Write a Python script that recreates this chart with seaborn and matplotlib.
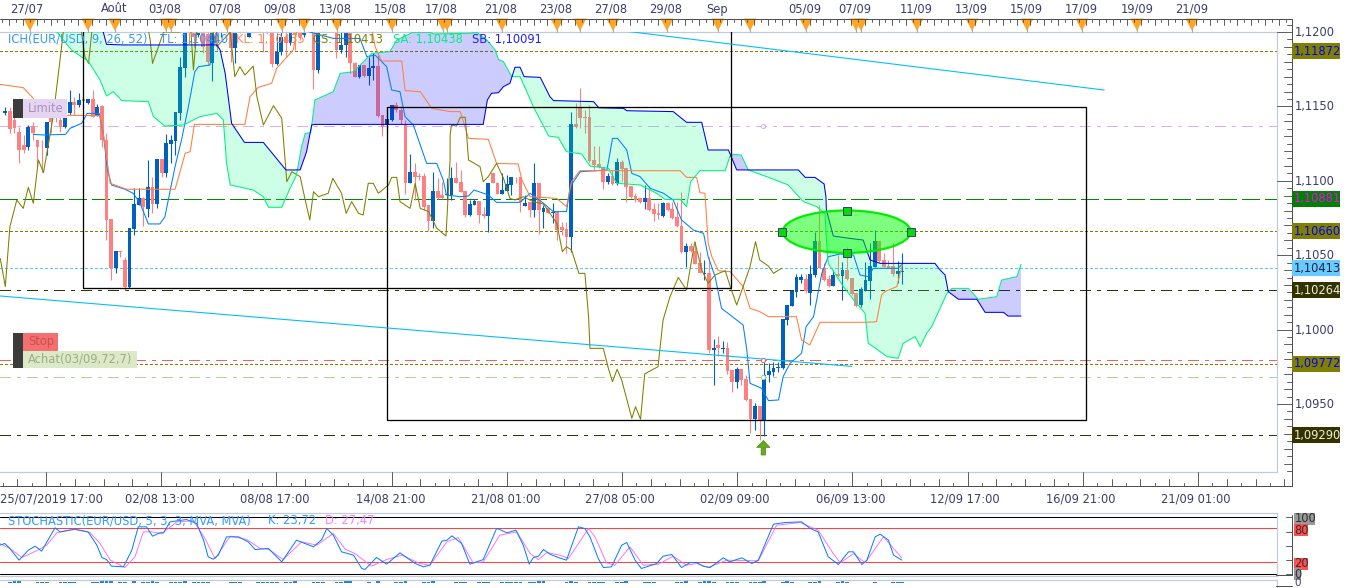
import numpy as np
import matplotlib
matplotlib.use('Agg')
import matplotlib.pyplot as plt
from matplotlib.patches import Ellipse, Rectangle
import seaborn as sns

# EUR/USD candles, in points (1e-5)
opens = [111458,111471,111409,111328,111241,111229,111368,111274,111229,111220,111431,111427,111409,111364,111453,111532,111509,111547,111525,111547,
         111435,111503,111274,110743,110412,110528,110468,110289,110678,110840,110882,110808,110961,110844,111144,111050,111247,111270,111458,111760,
         112081,112036,111982,112081,111987,111789,112081,111991,112081,112081,111895,112125,112036,111969,112125,112125,112081,112013,112081,111783,
         111868,111969,111924,112013,112058,111980,112081,112081,111745,112125,112081,112148,112081,111879,111913,112081,111789,111700,111778,111704,
         111756,111771,111442,111375,111409,111509,111476,111382,110987,111057,111032,111032,110837,110732,110931,110905,110905,110905,111021,110994,
         110931,110770,110837,110864,110777,110766,111050,110987,110911,110934,110972,111028,111028,110833,110860,110804,110985,110793,110815,110786,
         110790,110692,110676,110625,111379,111498,111427,111427,111140,111113,111091,110994,111035,110983,111126,111084,110965,110898,110882,110860,
         110884,110808,110781,110763,110849,110811,110755,110698,110524,110562,110531,110445,110374,110378,109865,109897,109870,109874,109729,109648,
         109733,109666,109531,109397,109487,109393,109695,109713,109740,109740,110065,110159,110255,110333,110340,110248,110367,110595,110412,110338,
         110293,110374,110363,110401,110345,110244,110165,110266,110329,110423,110595,110468,110427,110427,110374,110387]
highs = [111498,111498,111442,111364,111308,111375,111397,111274,111274,111397,111453,111453,111453,111465,111610,111565,111588,111565,111547,111610,
         111516,111509,111319,110743,110528,110528,110490,110685,110949,110949,110893,111140,111028,111144,111144,111312,111308,111460,111834,112081,
         112170,112081,112103,112125,112000,112081,112125,112125,112125,112125,112125,112170,112170,112125,112170,112170,112125,112125,112125,111991,
         112000,112000,112081,112058,112081,112081,112125,112125,112125,112170,112170,112170,112125,112000,112125,112125,111801,111778,111778,111834,
         111857,111845,111442,111494,111509,111527,111487,111409,111180,111117,111050,111050,110837,111057,111017,110994,111017,111091,111129,111073,
         110931,110871,110875,110864,110826,110987,111050,110994,111050,111039,111028,111028,111028,110905,110860,111117,110985,110837,110815,110849,
         110790,110725,110725,111465,111521,111621,111476,111509,111234,111234,111091,111050,111073,111151,111140,111084,110965,110920,110882,110972,
         110965,110849,110849,110860,110860,110855,110855,110923,110584,110584,110591,110524,110468,110490,109935,109957,109924,109919,109729,109747,
         109733,109695,109531,109505,109487,109796,109778,109785,109785,110069,110163,110259,110374,110374,110374,110434,110658,110837,110445,110367,
         110401,110501,110457,110557,110345,110244,110284,110457,110580,110669,110595,110513,110468,110580,110461,110513]
lows = [111442,111319,111319,111122,111189,111207,111274,111095,111061,111173,111319,111397,111330,111353,111442,111442,111498,111521,111516,111431,
        111435,111229,110602,110333,110378,110490,110266,110277,110636,110840,110699,110759,110781,110815,111028,111028,111117,111173,111409,111695,
        111924,111901,111969,111857,111776,111671,111879,111969,111991,111801,111789,111991,112013,111964,112013,112036,111868,111991,111767,111778,
        111845,111834,111913,111879,111946,111969,112002,111615,111722,112036,112058,112036,111823,111857,111834,111722,111695,111689,111700,111644,
        111677,111431,111301,111319,111404,111465,111382,110911,110983,110871,111005,110804,110663,110685,110878,110876,110871,110871,110983,110927,
        110759,110766,110837,110714,110748,110658,110983,110911,110911,110934,110905,110983,110793,110833,110759,110759,110643,110681,110781,110714,
        110602,110636,110517,110524,111353,111353,111319,111129,111068,111084,110943,110979,110972,110972,111001,110860,110882,110860,110849,110808,
        110799,110732,110741,110759,110799,110743,110692,110517,110423,110524,110441,110378,110333,109845,109628,109823,109841,109702,109583,109606,
        109628,109523,109307,109325,109258,109285,109650,109688,109717,109733,110031,110159,110221,110311,110244,110165,110356,110412,110329,110289,
        110293,110356,110199,110333,110232,110150,110154,110262,110206,110419,110457,110419,110412,110360,110315,110307]
closes = [111471,111350,111353,111207,111207,111364,111323,111225,111225,111395,111397,111422,111364,111431,111532,111509,111543,111539,111547,111431,
          111498,111274,110737,110412,110528,110522,110289,110685,110844,110882,110826,110956,110844,111144,111050,111252,111274,111460,111767,111991,
          111991,111969,112058,111901,111801,111991,111924,112081,112013,111890,112081,112013,112125,112058,112036,112058,111991,112081,111783,111868,
          111969,111924,112013,111980,111969,112036,112013,111745,112081,112058,112125,112058,111879,111913,112081,111789,111700,111778,111704,111760,
          111771,111438,111364,111413,111509,111476,111409,110987,111057,111028,111023,110826,110732,110931,110882,110882,110911,111021,110987,110927,
          110770,110844,110867,110770,110766,110987,110987,110911,110938,110978,111028,111023,110860,110853,110804,110985,110804,110815,110786,110790,
          110669,110669,110625,111379,111364,111420,111422,111135,111106,111091,110994,111035,110976,111126,111079,110961,110893,110871,110860,110884,
          110804,110777,110768,110853,110804,110748,110696,110524,110562,110531,110441,110378,110383,109863,109874,109874,109874,109724,109648,109738,
          109661,109527,109397,109487,109393,109695,109722,109742,109751,110069,110163,110259,110351,110356,110259,110374,110595,110412,110333,110293,
          110367,110363,110401,110342,110239,110159,110273,110333,110427,110595,110461,110423,110414,110374,110392,110396]

# ichimoku lines, bar position and points
tl_x = [7.1,9.3,14.1,15.1,17.6,18.8,21.4,22.3,23.2,24.1,27,28.8,30.3,32.1,34.6,35.7,37.9,39.3,40.8,42.2,43,45.5,46.2,47,49.1,50.6,66.5,67.2,72.3,78.1,79.6,81.4,83.9,85,86.8,87.9,89.7,92.6,94.8,96.2,96.9,99.9,101.7,102.9,106,107.8,112.9,115.1,118,120.1,123,123.8,126,131.8,133,134.1,136.1,137.2,139,141.2,144.1,146.2,148,150.6,152.8,153.8,155.3,156.7,161.4,162.2,162.9,165.4,166.9,169.1,170.1,171.6,174.1,175.1,176.7,178.5,179.9,182.5,185.4,186.8,188.6,189.7,195.1,196]
tl_y = [111312,111308,111312,111353,111386,111453,111453,111319,111073,110972,110943,110916,110849,110710,110710,110759,111095,111274,111498,111733,111767,111778,111901,112000,112081,112125,112125,112000,111957,111957,111834,111845,111767,111610,111599,111431,111375,111117,111117,111005,110905,110893,110898,110938,110905,110855,110855,110916,110849,110793,110793,110961,111061,111073,111285,111285,111207,111050,111028,110949,110916,110871,110737,110669,110647,110490,110356,110143,110031,109863,109639,109606,109523,109527,109684,109773,109841,110020,110087,110378,110490,110508,110501,110367,110356,110412,110412,110440]
kl_x = [-0.1,4.9,7.1,7.8,21.6,22.3,23.8,27.4,37.9,39.3,40.1,41.2,42.1,53.1,54.2,56,58.9,60,63.6,64.3,65,80.3,81.4,82.8,87.2,87.9,91.2,93.7,97.7,99.9,101.7,106,107.8,112.5,113.3,115.1,120.9,123,124.1,125.9,147.7,149.1,151.3,152,153.1,153.8,154.6,156,158.6,161.4,162.9,165,166.9,173,174.1,175.9,178.1,188.3,190.4,191.5,192.2,194.8,196]
kl_y = [111648,111626,111554,111442,111438,111319,110983,110943,110943,111095,111185,111196,111379,111379,111565,111628,111655,111756,111879,112000,112081,112081,111901,111805,111805,111606,111599,111487,111465,111465,111285,111279,111117,111113,111005,110893,110882,110826,110994,111068,111068,111023,111023,110920,110916,110580,110490,110396,110389,110289,110143,110121,110087,110087,109930,109897,110049,110049,110053,110233,110255,110289,110435]
cs_x = [-0.1,1,2,3.5,4.9,6,7.1,8.2,9.3,11.4,12.9,13.6,14.4,17.2,18.3,19.1,19.8,21,31.7,32.5,33,34.3,35.4,39,39.7,41.2,41.9,42.6,45.5,47,49.9,50.9,52,53.1,54.9,55.7,57.1,59.3,61.1,62.2,63.3,65.1,66.2,67.2,68,69.1,71.2,72.2,74.1,75.1,76.3,77.8,78.8,79.9,81,82.1,84.3,85,86.1,86.8,89,90.1,91.2,93,94.8,96.8,97.7,97.7,98,99.1,99.9,101,101.7,104.2,104.9,106,107.8,109.3,110.7,111.8,113.6,115.8,118,120.9,122.1,123,124.1,125.7,127,127.8,128.1,131,132.1,133,134,135,137.2,138,139.1,140,142.9,144,145.5,147.3,149.1,150.2,150.9,152.4,153.8,155.3,157.5,158.6,160,162.9,164.1,165,166.9,168,169.8]
cs_y = [110479,110289,110692,110871,110815,110956,110849,111140,111055,111431,111812,112000,112081,112081,111834,111789,112000,112081,112081,111946,111789,111901,112000,112000,112081,112081,111745,112000,112081,111901,112000,111700,111767,111711,111771,111565,111375,111505,111420,110994,111061,111028,110871,110737,110927,110893,110916,111017,110916,110781,110860,110781,110770,110983,110983,110916,110972,111023,111023,110860,110815,110983,110815,110793,110681,110629,111151,111308,111375,111368,111427,111427,111140,111095,110994,111028,111117,111017,110882,110871,110893,110860,110844,110714,110524,110557,110535,110378,110378,110087,109874,109874,109740,109650,109733,109661,109404,109482,109397,109702,109751,110065,110221,110351,110266,110468,110591,110401,110311,110367,110396,110289,110165,110423,110591,110468,110427,110378,110413]
sa_x = [10,12.2,15.4,19.1,21.6,23,24.5,26.3,32.1,33.2,35.7,39.7,43.3,47,48.4,49.1,49.9,54.9,57.1,58.2,61.1,62.9,64.3,65.4,66.2,67.4,68.3,72.3,73.8,76.7,80.7,84.6,86.1,89.7,93.3,94.1,102,103.5,105.7,107.5,108.2,109.3,111.1,112.9,115.8,119.1,121.2,123,126.3,128.1,132.1,133.9,139,142.6,144.4,147.7,149.1,150,152,157.5,158.5,159.3,161,162.5,166.5,171.2,174.5,177.4,179.2,179.6,179.9,183.2,186,187.9,188.6,189.7,192.7,195.1,196.2,198.8,199.9,201.3,202.4,205.7,206.8,210.4,212.5,216.5,217.6,220.9,221.8]
sa_y = [112081,112000,111879,111801,111677,111570,111599,111539,111532,111431,111368,111375,111431,111453,111409,111117,110972,110938,110893,110822,110822,110949,111039,111229,111319,111323,111543,111599,111722,111733,111857,111868,111946,112000,112000,111987,111991,111998,111946,111879,111816,111801,111700,111700,111498,111301,111292,111196,111180,111099,111084,110983,110972,110916,110875,110875,110826,110994,111068,111068,111162,111178,111173,111073,111028,110972,110860,110826,110781,110557,110445,110289,110177,110109,109908,109885,109818,109807,109908,109953,109885,109975,110020,110244,110277,110277,110204,110221,110333,110356,110438]
sb_x = [10,11.8,21.6,22.3,23,26.7,47,47.7,48.8,50.2,53,57.1,62,65.1,66.5,67.6,68.3,104.9,105.8,106.7,108.2,109.3,110.7,111.8,112.9,113.8,117.3,119.4,120.2,128.9,130,135.4,136.1,146.2,149.1,152.4,153.8,158.2,160,173.4,174.9,177,179,179.4,179.5,181,184.6,187.5,189,191.2,203.1,204.2,205.3,206,208.2,212.2,214,218,219,221.8]
sb_y = [112081,112125,112081,112000,111917,111913,111913,111879,111722,111386,111258,111258,111073,111073,111196,111375,111379,111379,111543,111588,111592,111633,111655,111763,111763,111700,111695,111565,111539,111532,111491,111487,111471,111465,111393,111393,111207,111207,111073,111073,111023,111023,110979,110893,110804,110629,110613,110602,110468,110445,110445,110401,110367,110255,110204,110204,110116,110116,110091,110091]

# stochastic
k_x = [-0.2,0.9,2,4,6,7.5,8.9,11.8,12.9,16.2,19,20.9,22,23,24.1,26.7,28.5,29.9,31.7,33,34.6,35.4,36.8,40.4,42.6,44.1,45.1,46.2,47.3,49.1,51.7,53.8,55.3,58.2,61.1,64.3,68,69.8,70.9,72.3,74.1,76.7,78.5,79.2,81.7,83.9,86.8,90.1,91.9,93.3,95.9,97,98.1,100.2,102,104.9,107.8,108.5,110,112,113.6,114.9,115.8,116.9,118,119.4,121.2,123,125.6,127,128.1,129.9,131,132.8,135,136.1,137.9,139.3,142.6,144,145.9,148,149.9,151.3,152.7,154.2,157.1,158.5,161.1,163.3,164.7,168,170.5,174.1,176,177.7,179.9,182.1,184.3,185.4,187.2,188.3,190.1,191.2,193,194.1,195.9]
k_y = [50.1,53,44.2,23.6,41.2,48.3,39.5,80.7,73.6,78.3,73.6,50.1,28.3,24.7,13,11.8,41.2,82.5,82.5,66,71.9,71.9,91.3,95.4,88.4,58.9,29.5,25.3,32.4,64.8,64.8,56,42.4,44.2,20.6,58.9,47.1,60.1,79.5,67.7,38.3,32.4,8.8,7.1,28.3,16.5,36.5,17.7,11.8,14.7,57.1,58.9,66.6,53,16.5,24.7,79.5,77.7,71.9,76.6,50.1,16.5,28.3,30.6,42.4,34.2,28.3,23.6,82.5,79.5,64.8,26.5,10.6,11.8,50.1,54.8,23.6,8.8,17.7,30.6,33.6,10.6,19.4,19.4,13,10.6,27.7,20.6,27.7,17.7,23.6,87.2,90.1,91.3,79.5,73.6,29.5,15.9,38.3,38.3,15.9,23.6,64.8,69.5,58.9,32.4,23.72]
d_x = [-0.2,2,4.6,7.8,10,12.2,15.8,19.4,21.6,23.8,27,29.2,31,32.8,35,38.3,41.9,44.4,46.6,49.9,53.5,56.4,58.2,61.4,65.4,68.7,72.3,74.9,77,80.6,83.9,87.2,91.1,93.3,97,99.5,102.7,104.9,108.5,112.2,115.1,116.9,118.7,121.6,123.4,127.8,129.2,131.7,133.5,136.8,139.7,143,146.2,149.1,151.3,153.8,157.8,164.7,168.7,173.8,177.7,181,182.5,185.4,187.9,191.9,195.9]
d_y = [53,44.2,28.3,40.1,50.1,71.9,78.3,72.4,53,23.6,10.6,29.5,73.6,73.6,70.7,91.3,93.1,61.8,26.5,66,60.1,44.2,43,24.7,56,50.1,70.7,43,35.3,13,24.7,32.4,17.7,14.7,56,63.6,18.8,20.6,67.7,73.6,35.3,24.7,37.1,32.4,26.5,79.5,64.8,18.8,14.7,47.1,14.7,16.5,30.6,14.7,17.7,10.6,23.6,22.4,85.4,90.1,76.6,35.3,18.8,35.3,18.8,64.8,27.47]

volumes = [0,1,2,3,0,0,0,1,1,1,0,0,1,1,1,1,0,0,0,1,1,2,4,2,0,1,1,0,2,0,1,1,2,1,0,0,1,1,1,2,0,1,1,1,1,0,0,0,0,1,1,1,0,0,0,1,1,1,1,1,0,1,1,2,0,0,0,1,1,1,0,0,1,1,2,2,0,0,0,1,0,2,0,0,0,1,1,3,0,0,0,1,1,2,0,0,0,0,1,1,1,0,0,1,1,1,0,0,1,1,1,1,1,0,1,1,2,2,0,0,0,0,1,4,1,0,0,1,1,1,1,0,0,1,1,2,0,0,0,1,1,1,0,0,0,0,1,1,2,0,0,1,2,4,1,0,0,1,1,1,0,0,1,1,1,3,0,0,0,1,2,1,0,0,0,1,1,2,0,0,0,1,2,1,0,0,0,0,0,1,0,0,0,1,1,1]

levels = {'olive_hi': 1.11872, 'lilac': 1.11370, 'green': 1.10881, 'olive_mid': 1.10660, 'cyan': 1.10413,
          'dark_hi': 1.10264, 'red': 1.09799, 'olive_lo': 1.09772, 'buy': 1.09683, 'dark_lo': 1.09290}
level_colors = {'olive_hi': '#808000', 'lilac': '#D9B0EE', 'green': '#008A00', 'olive_mid': '#808000', 'cyan': '#55C8FF',
                'dark_hi': '#333300', 'red': '#F06060', 'olive_lo': '#808000', 'buy': '#A8D890', 'dark_lo': '#333300'}
level_dashes = {'olive_hi': (2, 2), 'lilac': (9, 6, 3, 6), 'green': (12.3, 4.3), 'olive_mid': (2, 2), 'cyan': (2, 2),
                'dark_hi': (9, 6, 3, 6), 'red': (9, 6, 3, 6), 'olive_lo': (2, 2), 'buy': (9, 6, 3, 6), 'dark_lo': (9, 6, 3, 6)}
tags = [('1,11872', 1.11872, '#808000', '#0000FF'), ('1,10881', 1.10881, '#008000', '#FF00FF'),
        ('1,10660', 1.10660, '#808000', '#0000FF'), ('1,10413', 1.10413, '#66CCFF', '#202040'),
        ('1,10264', 1.10264, '#333300', '#EEEEDD'), ('1,09772', 1.09772, '#808000', '#0000FF'),
        ('1,09290', 1.09290, '#333300', '#EEEEDD')]
price_ticks = [1.12, 1.115, 1.11, 1.105, 1.10, 1.095]
price_labels = ['1,1200', '1,1150', '1,1100', '1,1050', '1,1000', '1,0950']
time_labels = ['25/07/2019 17:00', '02/08 13:00', '08/08 17:00', '14/08 21:00', '21/08 01:00', '27/08 05:00',
               '02/09 09:00', '06/09 13:00', '12/09 17:00', '16/09 21:00', '21/09 01:00']
time_label_px = [51, 160, 275, 391, 506, 620, 735, 851, 965, 1081, 1196]
day_labels = ['27/07', 'Août', '03/08', '07/08', '09/08', '13/08', '15/08', '17/08', '21/08', '23/08', '27/08', '29/08',
              'Sep', '05/09', '07/09', '11/09', '13/09', '15/09', '17/09', '19/09', '21/09']
day_label_px = [27, 114, 165, 225, 280, 335, 390, 441, 501, 556, 611, 666, 717, 805, 855, 916, 971, 1026, 1081, 1137, 1192]
event_px = [30, 88, 115, 166, 171, 227, 282, 304, 337, 392, 443, 447, 502, 557, 580, 613, 667, 718, 750, 806, 856, 861, 917, 972, 1027, 1082, 1137, 1192]

W, H = 1349, 588
sns.set_theme(style='white')
plt.rcParams['font.family'] = ['DejaVu Sans']
FS = 8.3
NAVY = '#3C3C6E'
PX = 0.72


def py(p):
    return 32 + (1.12 - p) * 14880


def box(y0, y1, x0=0, x1=1276.5):
    return [x0 / W, 1 - y1 / H, (x1 - x0) / W, (y1 - y0) / H]


fig = plt.figure(figsize=(W / 100, H / 100), dpi=100)
ax = fig.add_axes(box(32, 472))
ax_st = fig.add_axes(box(513.3, 576))
ax_vol = fig.add_axes(box(580, 588))
chrome = fig.add_axes([0, 0, 1, 1], zorder=10)
chrome.set_xlim(0, W)
chrome.set_ylim(H, 0)
chrome.axis('off')
chrome.patch.set_alpha(0)

xlim = (-0.152, 277.35)
ax.set_xlim(*xlim)
ax.set_ylim(1.12 - 440 / 14880, 1.12)

# horizontal levels
for name, level in levels.items():
    lw = 1.0 if name == 'green' else PX * 1.15
    ax.axhline(level, color=level_colors[name], lw=lw, dashes=level_dashes[name], antialiased=False, zorder=1)

# candles
bars = np.arange(1, len(opens) + 1)
o, h, l, c = [np.array(v) / 1e5 for v in (opens, highs, lows, closes)]
colors = np.where(c >= o, '#0060C0', '#FF8080')
ax.vlines(bars, l, h, colors=colors, lw=PX * 1.1, zorder=2)
ax.bar(bars, np.abs(c - o), bottom=np.minimum(o, c), width=0.85, color=colors, lw=0, zorder=2)

# cloud goes over the candles
sa_x, sb_x = np.array(sa_x), np.array(sb_x)
grid = np.union1d(sa_x, sb_x)
sa_grid = np.interp(grid, sa_x, np.array(sa_y) / 1e5)
sb_grid = np.interp(grid, sb_x, np.array(sb_y) / 1e5)
ax.fill_between(grid, sa_grid, sb_grid, where=sb_grid >= sa_grid, interpolate=True, color='#00FF80', alpha=0.2, lw=0, zorder=3)
ax.fill_between(grid, sa_grid, sb_grid, where=sa_grid >= sb_grid, interpolate=True, color='#0000FF', alpha=0.2, lw=0, zorder=3)

for xs, ys, col in [(tl_x, tl_y, '#0080FF'), (kl_x, kl_y, '#FF7F3F'), (cs_x, cs_y, '#808000'),
                    (sa_x, sa_y, '#00F080'), (sb_x, sb_y, '#0000F0')]:
    sns.lineplot(x=np.array(xs), y=np.array(ys) / 1e5, color=col, lw=PX * 1.05, sort=False, estimator=None,
                 errorbar=None, ax=ax, zorder=4)

# boxes and trend lines
ax.add_patch(Rectangle((17.96, 1.1028), 158.8 - 17.96, 0.02, fill=False, ec='black', lw=PX * 1.3, zorder=5))
ax.add_patch(Rectangle((84.0, 1.09392), 235.9 - 84.0, 1.11493 - 1.09392, fill=False, ec='black', lw=PX * 1.3, zorder=5))
ax.plot([-0.15, 185], [1.10226, 1.09753], color='#00BFFF', lw=PX * 1.1, zorder=5)
ax.plot([134, 239.9], [1.12013, 1.1161], color='#00BFFF', lw=PX * 1.1, zorder=5)
ax.add_patch(Ellipse((183.9, 1.10658), 27.8, 0.00285, fc='#00FF00', ec='none', alpha=0.5, zorder=6))
ax.add_patch(Ellipse((183.9, 1.10658), 27.8, 0.00285, fill=False, ec='#00EE00', lw=1.6, zorder=6))
for hx, hy in [(169.95, 1.10658), (197.85, 1.10658), (183.9, 1.108), (183.9, 1.10515)]:
    ax.plot(hx, hy, 's', ms=5.5, mfc='#00DD00', mec='#443388', mew=0.7, zorder=7)
ax.plot([165.8], [1.11370], 'o', ms=3, mfc='white', mec='#D9B0EE', mew=0.7, zorder=7)
ax.plot([165.8], [1.09799], 'o', ms=3, mfc='white', mec='#F06060', mew=0.7, zorder=7)
ax.plot([165.8], [1.09683], 'o', ms=3, mfc='white', mec='#A8D890', mew=0.7, zorder=7)
ax.annotate('', xy=(165.8, 1.12 - 408.5 / 14880), xytext=(165.8, 1.12 - 423 / 14880),
            arrowprops=dict(width=3.2, headwidth=9.5, headlength=5, fc='#66AA22', ec='#558811', lw=0.5), zorder=7)

# stochastic panel
ax_st.set_xlim(*xlim)
ax_st.set_ylim(-4.4, 106.4)
for lev, col in [(100, 'black'), (0, 'black'), (80, '#FF4040'), (20, '#FF4040')]:
    ax_st.axhline(lev, color=col, lw=PX * 1.05, zorder=1)
sns.lineplot(x=d_x, y=d_y, color='#FF66FF', lw=PX * 0.9, sort=False, estimator=None, errorbar=None, ax=ax_st, zorder=2)
sns.lineplot(x=k_x, y=k_y, color='#0080FF', lw=PX, sort=False, estimator=None, errorbar=None, ax=ax_st, zorder=3)

# volume strip
ax_vol.set_xlim(*xlim)
ax_vol.set_ylim(-4.6, 3.4)
ax_vol.bar(bars, volumes, bottom=0, width=0.8, color='#2080E0', lw=0)

for a in (ax, ax_st, ax_vol):
    a.set_xlabel('')
    a.set_ylabel('')
    a.set_xticks([])
    a.set_yticks([])
    for side in a.spines:
        a.spines[side].set_visible(side in ('top', 'right', 'bottom') and a is not ax_vol or side in ('top', 'right') and a is ax_vol)
        a.spines[side].set_color('#C0CCDC')
        a.spines[side].set_linewidth(PX * 1.2)

# top ruler
chrome.plot([0, 1291.5], [18.5, 18.5], color='#505050', lw=PX)
for n, tx in enumerate(np.arange(2.2, 1291, 6.9)):
    chrome.plot([tx, tx], [18.5, 24.5 if n % 2 else 22], color='#505050', lw=PX * 0.9)
for ex in event_px:
    chrome.fill([ex - 6.5, ex + 6.5, ex], [18.5, 18.5, 31], color='#FFA526', lw=0)
    chrome.plot([ex, ex], [29, 32], color='#A0A8B8', lw=PX)
for lab, lx in zip(day_labels, day_label_px):
    chrome.text(lx, 9, lab, ha='center', va='center', fontsize=FS, color=NAVY)

# bottom ruler
chrome.plot([0, 1291.5], [485.5, 485.5], color='#505050', lw=PX)
for n, tx in enumerate(np.arange(-11.6, 1290, 14.4)):
    if tx < 0:
        continue
    m = n % 8
    length = 13.5 if m == 4 else (6.5 if m % 2 == 0 else 3)
    chrome.plot([tx, tx], [485.5, 485.5 - length], color='#505050', lw=PX * 0.9)
for lab, lx in zip(time_labels, time_label_px):
    chrome.text(lx, 498.5, lab, ha='center', va='center', fontsize=FS, color=NAVY)

# price scale
chrome.plot([1291.5, 1291.5], [18.5, 485.5], color='#505050', lw=PX)
for n, tp in enumerate(np.arange(1.0905, 1.1205, 0.0005)):
    ty = py(tp)
    major = n % 10 == 9
    length = 15 if major else (8 if n % 2 else 4.5)
    chrome.plot([1291.5 - length, 1291.5], [ty, ty], color='#505050', lw=PX * 0.9)
for tp, lab in zip(price_ticks, price_labels):
    chrome.text(1295, py(tp) + 0.5, lab, ha='left', va='center', fontsize=FS, color=NAVY)
for lab, tp, bg, fg in tags:
    y0 = py(tp)
    chrome.add_patch(Rectangle((1292, y0 - 8), 48, 16, fc=bg, ec='none', zorder=3))
    chrome.text(1294, y0, lab, ha='left', va='center', fontsize=FS, color=fg, zorder=4)

# stochastic scale
chrome.plot([1291.5, 1291.5], [515, 575], color='#505050', lw=PX)
chrome.plot([1276, 1291.5], [575, 575], color='#505050', lw=PX)
for tv in (517, 531.5, 546, 560, 573.5):
    chrome.plot([1286, 1291.5], [tv, tv], color='#505050', lw=PX * 0.9)
for lab, ty, bg, w in [('100', 519, '#999999', 21), ('80', 530, '#FF5050', 14), ('20', 563.5, '#FF5050', 14), ('0', 574, '#999999', 7)]:
    chrome.add_patch(Rectangle((1294, ty - 6), w, 12, fc=bg, ec='none', zorder=3))
    chrome.text(1294.5, ty, lab, ha='left', va='center', fontsize=FS, color='#303030', zorder=4)
chrome.text(1294, 583, '0', ha='left', va='center', fontsize=7.5, color=NAVY)
chrome.plot([1276, 1291.5], [586, 586], color='#505050', lw=PX)

# titles
for tx, txt, col in [(8, 'ICH(EUR/USD, 9, 26, 52)', '#3399FF'), (160, 'TL: 1,10440', '#3399FF'),
                     (236, 'KL: 1,10435', '#FF8C50'), (313, 'CS: 1,10413', '#808000'),
                     (393, 'SA: 1,10438', '#00F080'), (472.5, 'SB: 1,10091', '#2020FF')]:
    chrome.text(tx, 39, txt, ha='left', va='center', fontsize=FS, color=col)
chrome.text(8, 520.5, 'STOCHASTIC(EUR/USD, 5, 3, 3, MVA, MVA)', ha='left', va='center', fontsize=FS, color='#3399FF')
chrome.text(268, 520.5, 'K: 23,72', ha='left', va='center', fontsize=FS, color='#3399FF')
chrome.text(325, 520.5, 'D: 27,47', ha='left', va='center', fontsize=FS, color='#FF80FF')

# order tags
for lab, y0, y1, x1, bg, fg in [('Limite', 99, 117.5, 67, '#E6D5F0', '#A98FC0'),
                                ('Stop', 333, 351, 58, '#F47070', '#C85050'),
                                ('Achat(03/09,72,7)', 351, 368, 137, '#DDE8C8', '#9AAF7F')]:
    chrome.add_patch(Rectangle((23, y0), x1 - 23, y1 - y0, fc=bg, ec='none', zorder=3))
    chrome.add_patch(Rectangle((13, y0), 10, y1 - y0, fc='#3C3C3C', ec='none', zorder=3))
    chrome.text(28, (y0 + y1) / 2, lab, ha='left', va='center', fontsize=FS, color=fg, zorder=4)

fig.savefig('out.png', dpi=100)
